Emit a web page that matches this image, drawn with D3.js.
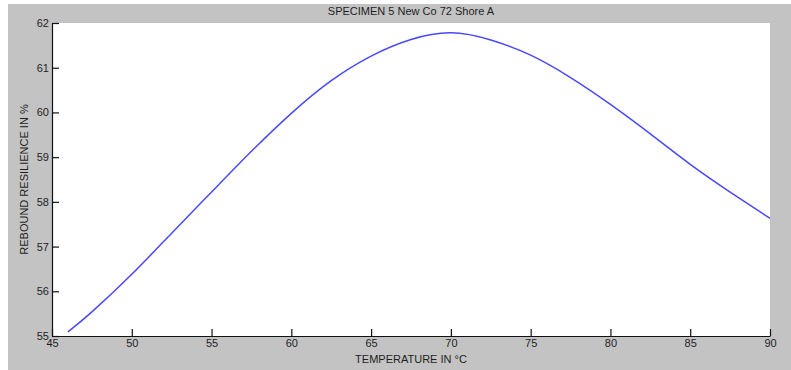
<!DOCTYPE html>
<html>
<head>
<meta charset="utf-8">
<script src="https://cdn.jsdelivr.net/npm/d3@7"></script>
<style>
  body { margin: 0; background: #fff; }
  svg text { font-family: "Liberation Sans", Arial, sans-serif; fill: #1e1e1e; }
</style>
</head>
<body>
<svg id="chart" width="791" height="370"></svg>
<script>
// temperature (°C) and rebound resilience (%)
let temperatures = [46, 47.5, 50, 52.5, 55, 57.5, 60, 62.5, 65, 67.5, 70, 72.5, 75, 77.5, 80, 82.5, 85, 87.5, 90];
let resilience = [55.09, 55.54, 56.38, 57.30, 58.22, 59.13, 59.98, 60.71, 61.26, 61.63, 61.78, 61.62, 61.28, 60.78, 60.18, 59.52, 58.84, 58.22, 57.63];
let xTicks = [45, 50, 55, 60, 65, 70, 75, 80, 85, 90];
let yTicks = [55, 56, 57, 58, 59, 60, 61, 62];
let title = 'SPECIMEN 5 New Co 72 Shore A';
let xLabel = 'TEMPERATURE IN °C';
let yLabel = 'REBOUND RESILIENCE IN %';

let svg = d3.select('#chart');
let margin = {top: 23, right: 21, bottom: 34, left: 52};
let width = 791 - margin.left - margin.right,
    height = 370 - margin.top - margin.bottom;

// grey figure background, white axes area
svg.append('rect')
    .attr('x', 8).attr('y', 4)
    .attr('width', 783).attr('height', 366)
    .attr('fill', '#c3c3c3');

let g = svg.append('g')
    .attr('transform', 'translate(' + margin.left + ',' + margin.top + ')');

g.append('rect')
    .attr('width', width).attr('height', height)
    .attr('fill', '#fff');

let xScale = d3.scaleLinear().domain([45, 90]).range([0, width]);
let yScale = d3.scaleLinear().domain([55, 62]).range([height, 0]);

// axes with inward ticks like matlab
let xAxis = g.append('g')
    .attr('transform', 'translate(0,' + height + ')')
    .call(d3.axisBottom(xScale).tickValues(xTicks).tickFormat(d3.format('d'))
        .tickSize(-7).tickSizeOuter(0).tickPadding(3));
let yAxis = g.append('g')
    .call(d3.axisLeft(yScale).tickValues(yTicks).tickFormat(d3.format('d'))
        .tickSize(-7).tickSizeOuter(0).tickPadding(3));

[xAxis, yAxis].forEach(axis => {
    axis.select('.domain').attr('stroke', '#111').attr('stroke-width', 1.2);
    axis.selectAll('.tick line').attr('stroke', '#111').attr('stroke-width', 1.2);
    axis.selectAll('.tick text')
        .attr('font-size', 11)
        .attr('font-family', '"Liberation Sans", Arial, sans-serif')
        .attr('fill', '#1e1e1e');
});

let data = temperatures.map((t, i) => ({t: t, r: resilience[i]}));

let line = d3.line()
    .x(d => xScale(d.t))
    .y(d => yScale(d.r))
    .curve(d3.curveNatural);

g.append('path')
    .datum(data)
    .attr('fill', 'none')
    .attr('stroke', '#4848ff')
    .attr('stroke-width', 1.5)
    .attr('d', line);

// title and axis labels
svg.append('text')
    .attr('x', margin.left + width / 2).attr('y', 15)
    .attr('text-anchor', 'middle')
    .attr('font-size', 11)
    .text(title);

svg.append('text')
    .attr('x', margin.left + width / 2).attr('y', 363)
    .attr('text-anchor', 'middle')
    .attr('font-size', 11)
    .text(xLabel);

svg.append('text')
    .attr('transform', 'translate(28,' + (margin.top + height / 2) + ') rotate(-90)')
    .attr('text-anchor', 'middle')
    .attr('font-size', 11)
    .text(yLabel);
</script>
</body>
</html>
